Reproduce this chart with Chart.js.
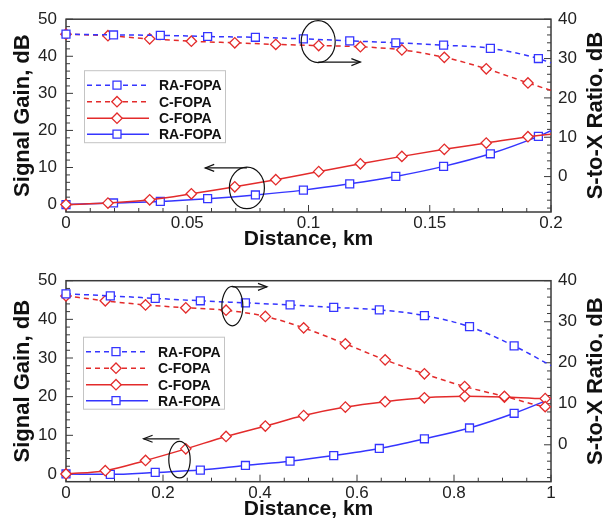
<!DOCTYPE html>
<html>
<head>
<meta charset="utf-8">
<script src="https://cdn.jsdelivr.net/npm/chart.js@4.4.0/dist/chart.umd.min.js"></script>
<style>
  body { margin: 0; background: #fff; }
  .panel { position: absolute; left: 0; width: 603px; height: 260px; }
</style>
</head>
<body>
<div class="panel" style="top:0"><canvas id="topChart" width="603" height="260"></canvas></div>
<div class="panel" style="top:260px"><canvas id="bottomChart" width="603" height="260"></canvas></div>
<script>
const blue = "#3535ff";
const red = "#e32b2b";

// top panel, 0 - 0.2 km
const topTicksX = [0, 0.05, 0.1, 0.15, 0.2];
const topRaX = [0, 0.0196, 0.0389, 0.0584, 0.0781, 0.0979, 0.117, 0.136, 0.1557, 0.175, 0.1948, 0.2];
const topRaRatio = [36.2, 36.0, 35.9, 35.6, 35.4, 35.0, 34.5, 34.0, 33.4, 32.6, 30.0, 28.9];
const topRaGain = [0, 0.44, 0.86, 1.6, 2.6, 3.9, 5.6, 7.6, 10.3, 13.7, 18.4, 19.9];
const topCX = [0, 0.0173, 0.0345, 0.0517, 0.0696, 0.0865, 0.1042, 0.1214, 0.1385, 0.156, 0.1733, 0.1905, 0.2];
const topCRatio = [36.2, 35.8, 35.0, 34.4, 34.0, 33.6, 33.3, 33.0, 32.2, 30.3, 27.4, 23.8, 21.9];
const topCGain = [0, 0.4, 1.3, 2.9, 4.8, 6.7, 8.9, 11.0, 13.0, 14.9, 16.6, 18.3, 19.0];

// bottom panel, 0 - 1 km
const botTicksX = [0, 0.2, 0.4, 0.6, 0.8, 1];
const botRaX = [0, 0.0914, 0.184, 0.277, 0.37, 0.462, 0.552, 0.646, 0.739, 0.832, 0.924, 1.0];
const botRaRatio = [36.8, 36.3, 35.7, 35.1, 34.6, 34.1, 33.5, 32.9, 31.5, 28.8, 24.1, 19.3];
const botRaGain = [0, -0.1, 0.4, 1.0, 2.2, 3.3, 4.75, 6.6, 9.1, 11.9, 15.7, 19.5];
const botCX = [0, 0.081, 0.164, 0.247, 0.33, 0.411, 0.49, 0.576, 0.658, 0.739, 0.822, 0.904, 0.988, 1.0];
const botCRatio = [36.3, 35.1, 34.1, 33.4, 32.8, 31.3, 28.5, 24.6, 20.7, 17.3, 14.2, 11.8, 9.3, 9.2];
const botCGain = [0, 0.86, 3.5, 6.5, 9.7, 12.4, 15.1, 17.3, 18.7, 19.7, 20.1, 19.9, 19.5, 19.5];

const gainTicks = [0, 10, 20, 30, 40, 50];
const ratioTicks = [0, 10, 20, 30, 40];
const names = ["RA-FOPA", "C-FOPA", "C-FOPA", "RA-FOPA"];

Chart.defaults.font.family = "'Liberation Sans', Arial, sans-serif";
Chart.defaults.color = "#222";

function series(label, xs, ys, color, dashed, style, axis) {
  return {
    label: label,
    data: xs.map((x, i) => ({ x: x, y: ys[i] })),
    yAxisID: axis,
    clip: false,
    borderColor: color,
    borderWidth: 1.5,
    borderDash: dashed ? [5, 4] : [],
    pointStyle: style,
    // last point is only the end of the curve, no marker there
    pointRadius: xs.map((x, i) => i == xs.length - 1 ? 0 : (style == "rect" ? 5.6 : 5.2)),
    pointBorderColor: color,
    pointBackgroundColor: "#fff",
    pointBorderWidth: 1.3,
    cubicInterpolationMode: "monotone",
    fill: false
  };
}

function tick(ctx, x1, y1, x2, y2) {
  ctx.beginPath();
  ctx.moveTo(x1, y1);
  ctx.lineTo(x2, y2);
  ctx.stroke();
}

function marker(ctx, style, x, y, color) {
  ctx.beginPath();
  if (style == "rect") {
    ctx.rect(x - 4, y - 4, 8, 8);
  } else {
    ctx.moveTo(x - 5.2, y);
    ctx.lineTo(x, y - 5.2);
    ctx.lineTo(x + 5.2, y);
    ctx.lineTo(x, y + 5.2);
    ctx.closePath();
  }
  ctx.fillStyle = "#fff";
  ctx.fill();
  ctx.strokeStyle = color;
  ctx.lineWidth = 1.3;
  ctx.stroke();
}

const decor = {
  id: "decor",
  beforeDatasetsDraw(chart, args, opts) {
    const ctx = chart.ctx;
    const a = chart.chartArea;
    const sx = chart.scales.x, sl = chart.scales.yL, sr = chart.scales.yR;
    ctx.save();

    // frame
    ctx.strokeStyle = "#3a3a3a";
    ctx.lineWidth = 1.5;
    ctx.strokeRect(a.left, a.top, a.right - a.left, a.bottom - a.top);

    // inward ticks with minor ones
    ctx.lineWidth = 1;
    const xt = opts.xTicks;
    const step = (xt[1] - xt[0]) / opts.xSub;
    const n = Math.round((xt[xt.length - 1] - xt[0]) / step);
    for (let i = 0; i <= n; i++) {
      const px = sx.getPixelForValue(xt[0] + i * step);
      tick(ctx, px, a.bottom, px, a.bottom - (i % opts.xSub == 0 ? 7 : 4));
    }
    for (let v = 0; v <= 50; v += 2) {
      const py = sl.getPixelForValue(v);
      tick(ctx, a.left, py, a.left + (v % 10 == 0 ? 7 : 4), py);
    }
    for (let v = -8; v <= 40; v += 2) {
      const py = sr.getPixelForValue(v);
      tick(ctx, a.right, py, a.right - (v % 10 == 0 ? 7 : 4), py);
    }
    ctx.restore();
  },
  afterDatasetsDraw(chart, args, opts) {
    const ctx = chart.ctx;
    const a = chart.chartArea;
    const sx = chart.scales.x;
    ctx.save();
    ctx.setLineDash([]);

    // ellipses with arrows that point to the axis
    ctx.strokeStyle = "#111";
    ctx.lineWidth = 1.2;
    opts.notes.forEach(nt => {
      const sy = chart.scales[nt.axis];
      const cx = sx.getPixelForValue(nt.x), cy = sy.getPixelForValue(nt.y);
      ctx.beginPath();
      ctx.ellipse(cx, cy, nt.rx, nt.ry, 0, 0, Math.PI * 2);
      ctx.stroke();
      const ay = sy.getPixelForValue(nt.arrowY);
      const x0 = sx.getPixelForValue(nt.from), x1 = sx.getPixelForValue(nt.to);
      const d = x1 > x0 ? 1 : -1;
      tick(ctx, x0, ay, x1, ay);
      ctx.beginPath();
      ctx.moveTo(x1 - d * 9, ay - 3.5);
      ctx.lineTo(x1, ay);
      ctx.lineTo(x1 - d * 9, ay + 3.5);
      ctx.stroke();
    });

    // legend box
    const lx = a.left + opts.legend.dx, ly = a.top + opts.legend.dy;
    ctx.fillStyle = "#fff";
    ctx.fillRect(lx, ly, 141, 72);
    ctx.strokeStyle = "#c4c4c4";
    ctx.lineWidth = 1;
    ctx.strokeRect(lx + 0.5, ly + 0.5, 141, 72);
    const rows = [15, 31.5, 48, 64];
    chart.data.datasets.forEach((ds, i) => {
      const y = ly + rows[i];
      ctx.strokeStyle = ds.borderColor;
      ctx.lineWidth = 1.5;
      ctx.setLineDash(ds.borderDash);
      tick(ctx, lx + 3, y, lx + 65, y);
      ctx.setLineDash([]);
      marker(ctx, ds.pointStyle, lx + 33, y, ds.borderColor);
      ctx.fillStyle = "#111";
      ctx.font = "bold 14px 'Liberation Sans', Arial, sans-serif";
      ctx.textAlign = "left";
      ctx.textBaseline = "middle";
      ctx.fillText(ds.label, lx + 75, y + 1);
    });

    // axis titles
    ctx.fillStyle = "#111";
    ctx.textBaseline = "alphabetic";
    ctx.textAlign = "center";
    ctx.font = "bold 21px 'Liberation Sans', Arial, sans-serif";
    ctx.fillText("Distance, km", (a.left + a.right) / 2, a.bottom + 33);
    ctx.font = "bold 22px 'Liberation Sans', Arial, sans-serif";
    const midY = (a.top + a.bottom) / 2;
    ctx.save();
    ctx.translate(28.5, midY);
    ctx.rotate(-Math.PI / 2);
    ctx.fillText("Signal Gain, dB", 0, 0);
    ctx.restore();
    ctx.save();
    ctx.translate(601.5, midY);
    ctx.rotate(-Math.PI / 2);
    ctx.fillText("S-to-X Ratio, dB", 0, 0);
    ctx.restore();

    ctx.restore();
  }
};

function makeChart(id, cfg) {
  return new Chart(document.getElementById(id), {
    type: "line",
    data: { datasets: cfg.datasets },
    plugins: [decor],
    options: {
      responsive: false,
      animation: false,
      layout: { padding: { top: cfg.top, left: 0, right: 0, bottom: 0 } },
      plugins: {
        legend: { display: false },
        tooltip: { enabled: false },
        decor: { xTicks: cfg.xTicks, xSub: cfg.xSub, notes: cfg.notes, legend: cfg.legend }
      },
      scales: {
        x: {
          type: "linear", min: 0, max: cfg.xTicks[cfg.xTicks.length - 1],
          grid: { display: false, drawTicks: false }, border: { display: false },
          afterBuildTicks: s => { s.ticks = cfg.xTicks.map(v => ({ value: v })); },
          afterFit: s => { s.height = 260 - cfg.bottom; },
          ticks: { padding: 1, autoSkip: false, maxRotation: 0, font: { size: 17 }, callback: v => String(v) }
        },
        yL: {
          type: "linear", position: "left", min: -2, max: 50,
          grid: { display: false, drawTicks: false }, border: { display: false },
          afterBuildTicks: s => { s.ticks = gainTicks.map(v => ({ value: v })); },
          afterFit: s => { s.width = 66; },
          ticks: { padding: 9, font: { size: 17 } }
        },
        yR: {
          type: "linear", position: "right", min: -9, max: 40,
          grid: { display: false, drawTicks: false }, border: { display: false },
          afterBuildTicks: s => { s.ticks = ratioTicks.map(v => ({ value: v })); },
          afterFit: s => { s.width = 52; },
          ticks: { padding: 7, font: { size: 17 } }
        }
      }
    }
  });
}

makeChart("topChart", {
  top: 12, bottom: 212, xTicks: topTicksX, xSub: 5,
  legend: { dx: 18, dy: 51 },
  datasets: [
    series(names[0], topRaX, topRaRatio, blue, true, "rect", "yR"),
    series(names[1], topCX, topCRatio, red, true, "rectRot", "yR"),
    series(names[2], topCX, topCGain, red, false, "rectRot", "yL"),
    series(names[3], topRaX, topRaGain, blue, false, "rect", "yL")
  ],
  notes: [
    { axis: "yL", x: 0.0746, y: 4.5, rx: 17.5, ry: 20.8, arrowY: 9.9, from: 0.0746, to: 0.0574 },
    { axis: "yR", x: 0.104, y: 34.3, rx: 17, ry: 21, arrowY: 29.1, from: 0.104, to: 0.1214 }
  ]
});

makeChart("bottomChart", {
  top: 20.7, bottom: 221.7, xTicks: botTicksX, xSub: 4,
  legend: { dx: 17, dy: 56 },
  datasets: [
    series(names[0], botRaX, botRaRatio, blue, true, "rect", "yR"),
    series(names[1], botCX, botCRatio, red, true, "rectRot", "yR"),
    series(names[2], botCX, botCGain, red, false, "rectRot", "yL"),
    series(names[3], botRaX, botRaGain, blue, false, "rect", "yL")
  ],
  notes: [
    { axis: "yR", x: 0.343, y: 33.8, rx: 10.5, ry: 19.7, arrowY: 38.5, from: 0.343, to: 0.4144 },
    { axis: "yL", x: 0.234, y: 3.7, rx: 10.7, ry: 18.3, arrowY: 9.1, from: 0.234, to: 0.16 }
  ]
});
</script>
</body>
</html>
